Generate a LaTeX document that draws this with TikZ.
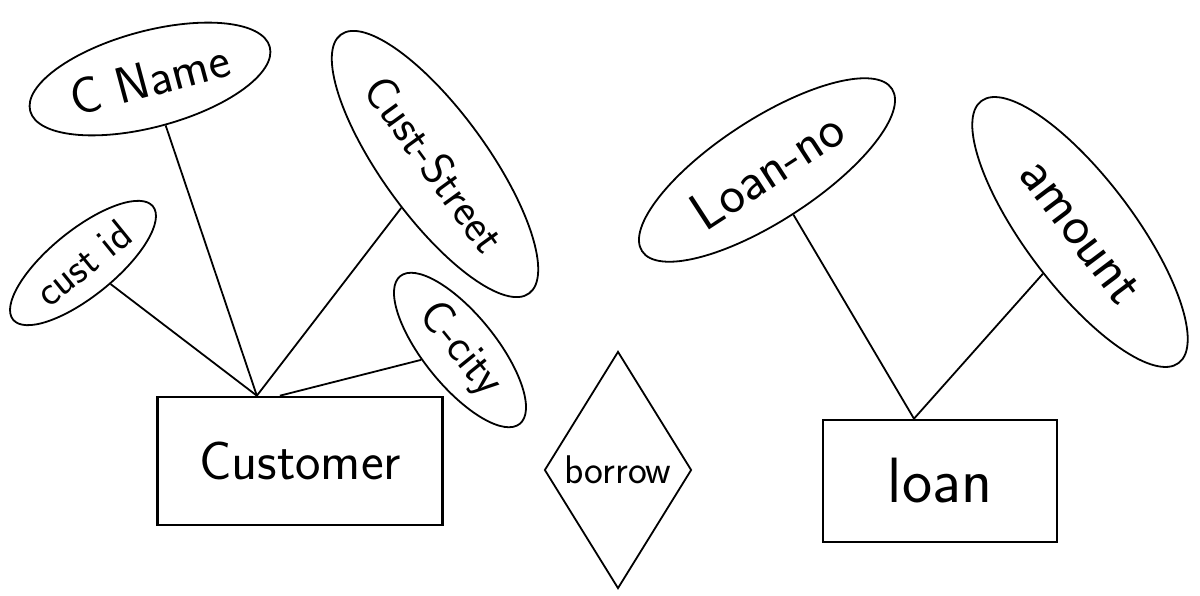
\documentclass[tikz,border=0pt]{standalone}
\usepackage{fontspec}
\usetikzlibrary{shapes.geometric,calc}
\newcommand{\handsize}[1]{\fontsize{#1}{#1}\selectfont}
\begin{document}
\begin{tikzpicture}[
    x=1pt,
    y=-1pt,
    font=\sffamily,
    attr/.style={
        draw=black,
        ellipse,
        line width=1.8pt,
        inner sep=0pt
    },
    entity/.style={
        draw=black,
        line width=2.6pt,
        inner sep=0pt
    },
    rel/.style={
        draw=black,
        diamond,
        line width=1.8pt,
        inner sep=0pt
    },
    link/.style={line width=1.8pt}
]
\useasboundingbox (0,0) rectangle (1200,596);

% entity sets
\node[entity, minimum width=285pt, minimum height=128pt,
      font=\sffamily\handsize{54}] (customer) at (300,461) {Customer};
\node[entity, minimum width=234pt, minimum height=122pt,
      font=\sffamily\handsize{64}] (loan) at (940,481) {loan};

% relationship
\node[rel, minimum width=147pt, minimum height=237pt,
      font=\sffamily\handsize{40}] (borrow) at (618,470) {borrow};

% attributes of customer
\node[attr, rotate=15, minimum width=248pt, minimum height=96pt,
      font=\sffamily\handsize{51}] (cname) at (150,79) {C Name};
\node[attr, rotate=39, minimum width=180pt, minimum height=66pt,
      font=\sffamily\handsize{42}] (custid) at (83,263) {cust id};
\node[attr, rotate=-54, minimum width=320pt, minimum height=105pt,
      font=\sffamily\handsize{46}] (custstreet) at (435,164) {Cust-Street};
\node[attr, rotate=-51, minimum width=190pt, minimum height=72pt,
      font=\sffamily\handsize{46}] (ccity) at (460,350) {C-city};

% attributes of loan
\node[attr, rotate=33, minimum width=298pt, minimum height=102pt,
      font=\sffamily\handsize{54}] (loanno) at (767,170) {Loan-no};
\node[attr, rotate=-53, minimum width=328pt, minimum height=108pt,
      font=\sffamily\handsize{56}] (amount) at (1080,232) {amount};

\coordinate (custjoin) at ($(customer.north west)!0.35!(customer.north east)$);
\coordinate (cityjoin) at ($(customer.north west)!0.43!(customer.north east)$);
\coordinate (loanjoin) at ($(loan.north west)!0.39!(loan.north east)$);

\draw[link] (cname) -- (custjoin);
\draw[link] (custid) -- (custjoin);
\draw[link] (custstreet) -- (custjoin);
\draw[link] (ccity) -- (cityjoin);
\draw[link] (loanno) -- (loanjoin);
\draw[link] (amount) -- (loanjoin);

\end{tikzpicture}
\end{document}
